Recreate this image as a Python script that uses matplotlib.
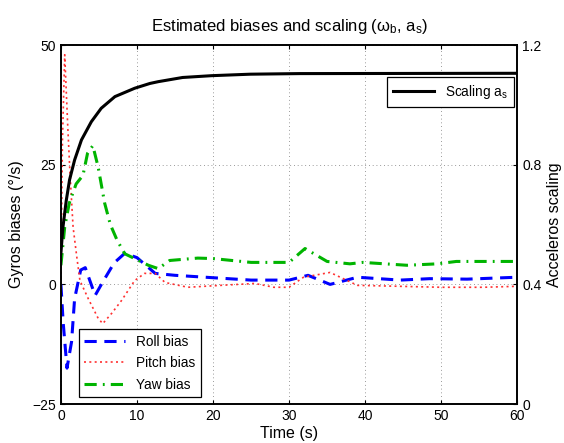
import matplotlib
matplotlib.use("Agg")
import matplotlib.pyplot as plt

plt.rcParams['font.family'] = ['Liberation Sans', 'DejaVu Sans']
plt.rcParams['mathtext.fontset'] = 'custom'
plt.rcParams['mathtext.rm'] = 'Liberation Sans'
plt.rcParams['mathtext.it'] = 'Liberation Sans'

# scaling a_s (right axis)
scale_t = [0, 0.26, 0.7, 1.14, 1.8, 2.7, 4.0, 5.3, 7.1, 9.7, 11.7, 12.8, 16, 19.8, 24.9, 31.4, 60]
scale_v = [0.505, 0.59, 0.68, 0.75, 0.816, 0.883, 0.944, 0.989, 1.028, 1.056, 1.072, 1.078,
           1.092, 1.098, 1.103, 1.105, 1.106]

# gyro biases (left axis)
roll_t = [0, 0.3, 0.8, 1.4, 1.8, 2.6, 3.2, 4.5, 5.5, 7, 8.4, 10, 12.4, 15, 20, 25, 30,
          32.5, 35.4, 39, 44.6, 48.5, 53.4, 60]
roll_v = [0, -8, -17.5, -12, -3, 3, 3.5, -2.3, 0.5, 4.5, 6.5, 5.6, 2.3, 1.9, 1.4, 0.9, 0.9,
          1.9, 0, 1.5, 0.9, 1.2, 1.1, 1.5]

pitch_t = [0, 0.2, 0.5, 0.9, 1.2, 1.6, 2.1, 2.5, 3.6, 4.9, 5.5, 6.7, 8, 9.7, 11, 12.4, 13.7,
           16.7, 21, 25.5, 28, 30, 31.9, 35.4, 39, 44.6, 50, 55.5, 60]
pitch_v = [0, 30, 48, 33, 23, 12, 5.6, 0.8, -3, -7.1, -8.2, -6, -3.3, 0.8, 2.3, 2.3, 0.4,
           -0.6, -0.2, 0.2, -0.6, -0.6, 1.5, 2.5, -0.2, -0.4, -0.6, -0.6, -0.4]

yaw_t = [0, 0.5, 1.1, 2.0, 2.9, 3.5, 4.2, 4.9, 5.75, 6.5, 7.4, 8.4, 9.7, 11.5, 12.8, 14.3,
         18, 20, 25, 30, 32.1, 35, 38, 39.7, 45.5, 49.5, 52, 60]
yaw_v = [4, 12, 17, 21, 22.8, 27.4, 29, 24.5, 17, 12.5, 9.2, 6.4, 5.4, 4, 3.3, 5,
         5.5, 5.4, 4.6, 4.6, 7.5, 4.8, 4.3, 4.6, 4, 4.3, 4.8, 4.8]

fig = plt.figure(figsize=(5.64, 4.43), dpi=100)
ax = fig.add_axes([0.108, 0.088, 0.809, 0.810])
ax2 = ax.twinx()

ax.plot(roll_t, roll_v, color='#0000ff', lw=2.2, dashes=(4, 2.5), label='Roll bias')
ax.plot(pitch_t, pitch_v, color='#ff3030', lw=1.2, dashes=(1.2, 2), label='Pitch bias')
ax.plot(yaw_t, yaw_v, color='#00b400', lw=2.2, dashes=(4, 2, 0.6, 2), label='Yaw bias')
ax2.plot(scale_t, scale_v, color='black', lw=2.2, label='Scaling a$_s$')

ax.set_xlim(0, 60)
ax.set_ylim(-25, 50)
ax.set_yticks([-25, 0, 25, 50])
ax.set_xticks(range(0, 61, 10))
ax2.set_ylim(0, 1.2)
ax2.set_yticks([0, 0.4, 0.8, 1.2])
ax2.set_yticklabels(['0', '0.4', '0.8', '1.2'])

ax.grid(True, linestyle=(0, (1, 3.5)), color='#404040', lw=0.6, alpha=0.7)
ax.tick_params(direction='in', top=True, labelsize=10, length=3)
ax2.tick_params(direction='in', labelsize=10, length=3)
for a in (ax, ax2):
    for s in a.spines.values():
        s.set_linewidth(1.2)

ax.set_xlabel('Time (s)', fontsize=11.5, labelpad=2)
ax.set_ylabel('Gyros biases (°/s)', fontsize=11.5, labelpad=6)
ax2.set_ylabel('Acceleros scaling', fontsize=11.5, labelpad=4)
ax.set_title('Estimated biases and scaling ($\\omega_b$, a$_s$)', fontsize=12, pad=10)

leg1 = ax.legend(loc='lower left', bbox_to_anchor=(0.039, 0.0195), borderaxespad=0,
                 fontsize=9.8, fancybox=False, edgecolor='black', framealpha=1,
                 handlelength=3.0, borderpad=0.4, labelspacing=0.55)
leg1.get_frame().set_linewidth(0.9)
leg2 = ax2.legend(loc='upper right', bbox_to_anchor=(0.993, 0.911), borderaxespad=0,
                  fontsize=9.8, fancybox=False, edgecolor='black', framealpha=1,
                  handlelength=3.0, borderpad=0.45)
leg2.get_frame().set_linewidth(0.9)

fig.savefig('out.png', dpi=100)
